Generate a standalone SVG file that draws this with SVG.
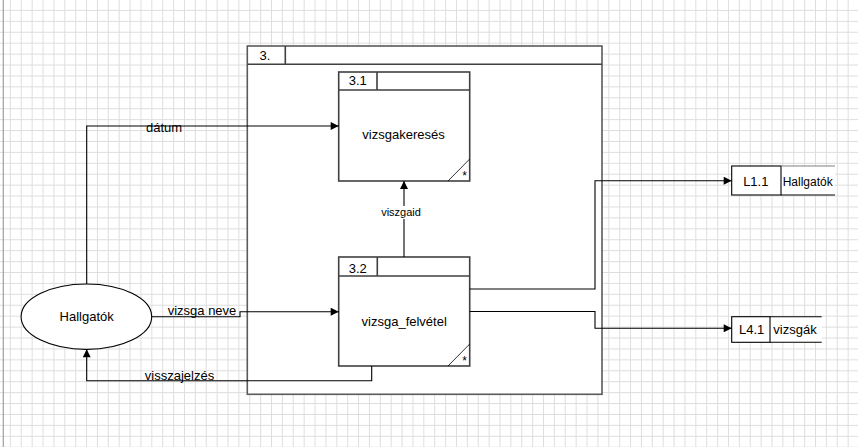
<svg xmlns="http://www.w3.org/2000/svg" width="858" height="447" viewBox="0 0 858 447">
  <defs>
    <pattern id="grid" patternUnits="userSpaceOnUse" x="0" y="0" width="10.88" height="10.92">
      <path d="M10.88,0 V10.92 M0,10.92 H10.88" fill="none" stroke="#dedede" stroke-width="1.2" shape-rendering="crispEdges"/>
    </pattern>
    <marker id="arr" viewBox="0 0 10 10" refX="10" refY="5" markerWidth="10" markerHeight="8" markerUnits="userSpaceOnUse" orient="auto">
      <path d="M0,0 L10,5 L0,10 z" fill="#000"/>
    </marker>
    <style>
      text { font-family: "Liberation Sans", Arial, sans-serif; fill: #000; }
      .t13 { font-size: 13px; }
      .t12 { font-size: 12px; }
      .t11 { font-size: 11px; }
      .c { text-anchor: middle; }
      .box { fill: #fff; stroke: #404040; stroke-width: 1.6; }
      .outer { fill: #fff; stroke: #5a5a5a; stroke-width: 1.6; }
      .hdr { fill: none; stroke: #404040; stroke-width: 1.6; }
      .diag { fill: none; stroke: #000; stroke-width: 0.8; }
      .conn { fill: none; stroke: #000; stroke-width: 1.1; }
      .store { fill: #fff; stroke: #000; stroke-width: 1.1; }
    </style>
  </defs>

  <rect x="0" y="0" width="858" height="447" fill="#fff"/>
  <rect x="0" y="0" width="858" height="447" fill="url(#grid)"/>
  <line x1="3.3" y1="0" x2="3.3" y2="447" stroke="#a0a0a0" stroke-width="1.2"/>

  <g id="node-3">
    <rect class="outer" x="247.3" y="46" width="354.7" height="348.3"/>
    <path class="hdr" d="M247.3,64.3 H602 M285.3,46 V64.3" stroke="#5a5a5a"/>
    <text class="t13 c" x="265" y="59.5">3.</text>
  </g>

  <g id="node-3-1">
    <rect class="box" x="338.7" y="72" width="131" height="109"/>
    <path class="hdr" d="M338.7,90 H469.7 M377,72 V90"/>
    <path class="diag" d="M448,181 L469.7,159"/>
    <text class="t13 c" x="357.7" y="85">3.1</text>
    <text class="t13 c" x="403.5" y="139.3">vizsgakeresés</text>
    <text class="t12 c" x="464.5" y="179.5">*</text>
  </g>

  <g id="node-3-2">
    <rect class="box" x="338.7" y="257" width="131" height="109"/>
    <path class="hdr" d="M338.7,276 H469.7 M377.3,257 V276"/>
    <path class="diag" d="M448,366 L469.7,344"/>
    <text class="t13 c" x="357.7" y="272.7">3.2</text>
    <text class="t13 c" x="404.2" y="326">vizsga_felvétel</text>
    <text class="t12 c" x="464.5" y="364.5">*</text>
  </g>

  <g id="node-hallgatok">
    <ellipse cx="86.4" cy="316.7" rx="65.3" ry="32.7" fill="#fff" stroke="#000" stroke-width="1.1"/>
    <text class="t13 c" x="86.7" y="321.3">Hallgatók</text>
  </g>

  <g id="node-L1-1">
    <path d="M835,166 H781 V195 H835" fill="#fff" stroke="none"/>
    <rect class="store" x="731.7" y="166" width="49.3" height="29"/>
    <path d="M781,166 H835" fill="none" stroke="#808080" stroke-width="1.1"/>
    <path d="M781,195 H835" fill="none" stroke="#000" stroke-width="1.1"/>
    <text class="t13 c" x="755.8" y="185.7">L1.1</text>
    <text class="t12" x="782.7" y="185.7">Hallgatók</text>
  </g>

  <g id="node-L4-1">
    <path d="M821.7,316.7 H770 V342.3 H821.7" fill="#fff" stroke="none"/>
    <rect class="store" x="731.7" y="316.7" width="38.3" height="25.6"/>
    <path d="M770,316.7 H821.7 M770,342.3 H821.7" fill="none" stroke="#000" stroke-width="1.1"/>
    <text class="t13 c" x="751.7" y="334.3">L4.1</text>
    <text class="t13" x="773.3" y="334.3">vizsgák</text>
  </g>

  <g id="connectors">
    <path class="conn" d="M86.7,284 V126 H338.7" marker-end="url(#arr)"/>
    <text class="t13 c" x="164" y="132">dátum</text>

    <path class="conn" d="M151.7,316.7 H240 V311.7 H338.7" marker-end="url(#arr)"/>
    <text class="t13 c" x="202" y="315.3">vizsga neve</text>

    <path class="conn" d="M371.7,366 V380.7 H86.7 V349.3" marker-end="url(#arr)"/>
    <text class="t13 c" x="179.5" y="379.5">visszajelzés</text>

    <path class="conn" d="M404,257 V181" marker-end="url(#arr)"/>
    <rect x="379" y="206" width="44" height="13" fill="#fff"/>
    <text class="t11 c" x="401" y="216">viszgaid</text>

    <path class="conn" d="M469.7,289 H595 V180.7 H731.7" marker-end="url(#arr)"/>
    <path class="conn" d="M469.7,311.5 H595 V328.3 H731.7" marker-end="url(#arr)"/>
  </g>
</svg>
